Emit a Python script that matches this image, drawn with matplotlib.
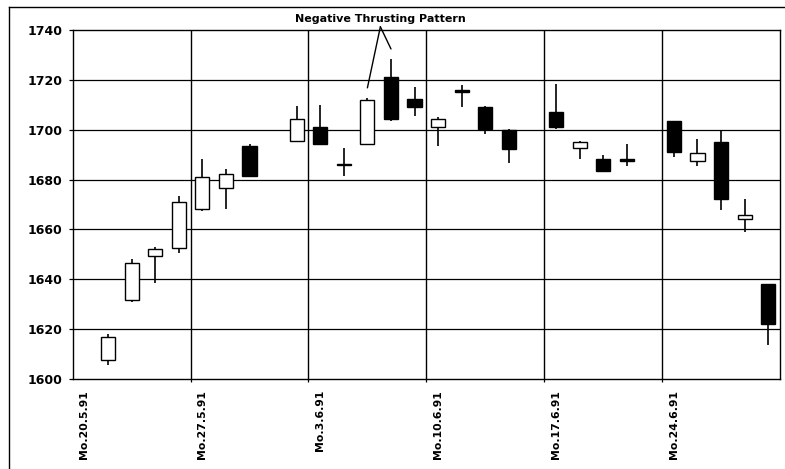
import numpy as np
import matplotlib
matplotlib.use("Agg")
import matplotlib.pyplot as plt
from matplotlib.lines import Line2D

# ---- data (30 trading-day slots, Mon-Fri, NaN = no trading) ----
nan = np.nan
opens  = [nan, 1607.6, 1631.6, 1649.5, 1652.4,
          1668.2, 1676.5, 1693.5, nan, 1695.5,
          1701.1, 1686.4, 1694.4, 1721.0, 1712.2,
          1701.2, 1715.9, 1709.1, 1699.9, nan,
          1707.2, 1692.5, 1688.1, 1688.1, nan,
          1703.4, 1687.5, 1695.2, 1664.1, 1638.1]
highs  = [nan, 1617.9, 1648.0, 1653.0, 1673.3,
          1688.1, 1684.1, 1694.3, nan, 1709.5,
          1709.9, 1692.5, 1712.6, 1728.2, 1717.0,
          1705.2, 1717.9, 1709.5, 1700.2, nan,
          1718.3, 1695.5, 1689.9, 1694.3, nan,
          1703.6, 1696.2, 1699.6, 1672.2, 1638.3]
lows   = [nan, 1605.6, 1631.0, 1638.6, 1650.4,
          1667.4, 1668.3, 1681.2, nan, 1695.0,
          1694.0, 1681.6, 1694.0, 1703.6, 1705.5,
          1693.6, 1709.2, 1698.2, 1686.5, nan,
          1700.2, 1688.1, 1683.0, 1685.5, nan,
          1689.2, 1685.5, 1667.8, 1658.9, 1613.6]
closes = [nan, 1617.0, 1646.7, 1652.0, 1671.1,
          1681.0, 1682.2, 1681.6, nan, 1704.2,
          1694.4, 1685.7, 1711.9, 1704.4, 1709.0,
          1704.2, 1715.1, 1700.2, 1692.4, nan,
          1701.1, 1695.2, 1683.4, 1687.3, nan,
          1691.1, 1690.8, 1672.2, 1665.8, 1621.9]
week_labels = ['Mo.20.5.91', 'Mo.27.5.91', 'Mo.3.6.91',
               'Mo.10.6.91', 'Mo.17.6.91', 'Mo.24.6.91']
y_ticks = [1600, 1620, 1640, 1660, 1680, 1700, 1720, 1740]
annotation_text = 'Negative Thrusting Pattern'
pattern_days = [12, 13]

o = np.array(opens); h = np.array(highs); l = np.array(lows); c = np.array(closes)
x = np.arange(len(o))
valid = ~np.isnan(o)

W, H = 785, 469
fig = plt.figure(figsize=(W / 100, H / 100), dpi=100)
ax = fig.add_axes([72.7 / W, 1 - 379 / H, (780 - 72.7) / W, (379 - 30) / H])

# wicks
ax.vlines(x[valid], l[valid], h[valid], color='black', lw=1.2, zorder=3)
# bodies
up = valid & (c >= o)
dn = valid & (c < o)
ax.bar(x[up], c[up] - o[up], bottom=o[up], width=0.6, color='white',
       edgecolor='black', linewidth=1.0, zorder=4)
ax.bar(x[dn], c[dn] - o[dn], bottom=o[dn], width=0.6, color='black',
       edgecolor='black', linewidth=1.0, zorder=4)

ax.set_xlim(-0.5, len(o) - 0.5)
ax.set_ylim(y_ticks[0], y_ticks[-1])

# grid
for yv in y_ticks[1:-1]:
    ax.axhline(yv, color='black', lw=0.9, zorder=1)
n_weeks = len(week_labels)
for k in range(1, n_weeks):
    ax.axvline(5 * k - 0.5, color='black', lw=1.0, zorder=1)

for s in ax.spines.values():
    s.set_color('black')
    s.set_linewidth(1.0)

ax.set_yticks(y_ticks)
ax.set_yticklabels([str(v) for v in y_ticks], fontsize=9, fontweight='bold')
ax.tick_params(axis='y', direction='out', length=3.1, width=0.9, pad=4.5)

ax.set_xticks([5 * k for k in range(n_weeks)])
ax.set_xticklabels(week_labels, rotation=90, fontsize=7.8, fontweight='bold',
                   ha='center', va='top')
ax.set_xticks([5 * k - 0.5 for k in range(1, n_weeks)], minor=True)
ax.tick_params(axis='x', which='major', length=0, pad=8)
ax.tick_params(axis='x', which='minor', direction='out', length=2.2, width=0.9)

# annotation
tx, ty = 12.55, 1741.3
ax.text(tx, 1742.6, annotation_text, ha='center', va='bottom',
        fontsize=8, fontweight='bold', clip_on=False)
for d in pattern_days:
    ax.annotate('', xy=(d, h[d] + 4.2), xytext=(tx, ty),
                arrowprops=dict(arrowstyle='-', lw=1.0, color='black',
                                shrinkA=0, shrinkB=0),
                annotation_clip=False)

# outer frame (left and top edges of the scanned figure border)
fig.add_artist(Line2D([9 / W, 9 / W], [0, 1 - 7 / H], transform=fig.transFigure,
                      color='black', lw=1.0))
fig.add_artist(Line2D([9 / W, 1], [1 - 7 / H, 1 - 7 / H], transform=fig.transFigure,
                      color='black', lw=1.0))

fig.savefig('out.png', dpi=100)
